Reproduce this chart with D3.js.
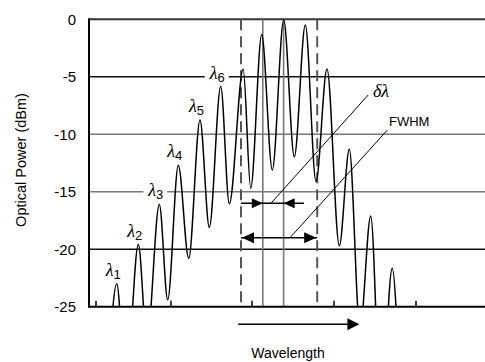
<!DOCTYPE html>
<html>
<head>
<meta charset="utf-8">
<script src="https://cdn.jsdelivr.net/npm/d3@7"></script>
<style>
  body { margin: 0; background: #fff; }
  svg { display: block; }
  text { font-family: "Liberation Sans", Arial, sans-serif; fill: #000; }
</style>
</head>
<body>
<div id="chart"></div>
<script>
// spectrum (wavelength in arbitrary units, power in dBm): alternating troughs / peaks
const waveX = [4.5, 6.93, 9.25, 12.33, 14.5, 17.58, 19.68, 22.33, 24.93, 27.75, 30.08, 32.93, 35.08,
  38.55, 40.43, 43.18, 45.83, 48.68, 51.33, 54.08, 56.75, 59.5, 62.58, 65.08, 67.75, 70.43, 73, 75.8, 77.75]
const powerDbm = [-33, -23.0, -32, -19.6, -28, -16.1, -24.4, -12.7, -20.8, -8.75, -18.1, -5.85, -16.05,
  -4.32, -14.7, -1.33, -13.1, -0.07, -11.95, -0.5, -14.1, -4.32, -19.7, -11.3, -27, -17.1, -34, -21.65, -33]

const yTicks = [0, -5, -10, -15, -20, -25]
const xTicks = [1.75, 20.5, 40.75, 61.25, 81.75]
const lambdaNames = ['1', '2', '3', '4', '5', '6']   // first six peaks are labelled
const fwhmEdges = [38, 57.05]        // dashed lines
const deltaLines = [43.45, 48.65]    // solid grey lines (adjacent peaks)

const width = 485, height = 362
const plot = {left: 89, right: 485, top: 19.3, bottom: 306.7}

const svg = d3.select('#chart').append('svg')
  .attr('width', width)
  .attr('height', height)

const x = d3.scaleLinear().domain([0, 99]).range([plot.left, plot.right])
const y = d3.scaleLinear().domain([-25, 0]).range([plot.bottom, plot.top])

// horizontal grid lines
svg.append('g')
  .selectAll('line')
  .data(yTicks.filter(d => d !== 0 && d !== -25))
  .join('line')
    .attr('x1', plot.left).attr('x2', plot.right)
    .attr('y1', d => y(d)).attr('y2', d => y(d))
    .attr('stroke', d => (d === -5 || d === -20) ? '#111' : '#777')
    .attr('stroke-width', 1.4)

// top line
svg.append('line')
  .attr('x1', plot.left).attr('x2', plot.right)
  .attr('y1', y(0)).attr('y2', y(0))
  .attr('stroke', '#333').attr('stroke-width', 2)

// y axis tick labels
svg.append('g')
  .selectAll('text')
  .data(yTicks)
  .join('text')
    .attr('x', 76)
    .attr('y', d => y(d))
    .attr('dy', '0.36em')
    .attr('text-anchor', 'end')
    .style('font-size', '15px')
    .text(d => d)

// y axis title
svg.append('text')
  .attr('transform', `translate(26,160) rotate(-90)`)
  .attr('text-anchor', 'middle')
  .style('font-size', '14.5px')
  .text('Optical Power (dBm)')

// FWHM edges (dashed) and delta-lambda lines (solid grey)
svg.append('g')
  .selectAll('line')
  .data(fwhmEdges)
  .join('line')
    .attr('x1', d => x(d)).attr('x2', d => x(d))
    .attr('y1', y(0)).attr('y2', plot.bottom)
    .attr('stroke', '#555').attr('stroke-width', 2)
    .attr('stroke-dasharray', '11,6')

svg.append('g')
  .selectAll('line')
  .data(deltaLines)
  .join('line')
    .attr('x1', d => x(d)).attr('x2', d => x(d))
    .attr('y1', y(0)).attr('y2', plot.bottom)
    .attr('stroke', '#777').attr('stroke-width', 1.6)

// peak labels: white boxes first, curve above, then text
const pts = waveX.map((w, i) => ({w: w, p: powerDbm[i]}))
const peaks = pts.filter((d, i) => i > 0 && i < pts.length - 1 && d.p > pts[i - 1].p && d.p > pts[i + 1].p)

const labelG = svg.append('g')
const boxG = svg.append('g')
const lbl = labelG.selectAll('text.lam')
  .data(lambdaNames.map((n, i) => ({name: n, pk: peaks[i]})))
  .join('text')
    .attr('class', 'lam')
    .attr('x', d => x(d.pk.w) - 11)
    .attr('y', d => y(d.pk.p) - 8)
lbl.append('tspan')
  .style('font-family', '"Liberation Serif", "Times New Roman", serif')
  .style('font-style', 'italic')
  .style('font-size', '18px')
  .text('λ')
lbl.append('tspan')
  .attr('dy', 3)
  .style('font-size', '13px')
  .text(d => d.name)

lbl.each(function() {
  const b = this.getBBox()
  boxG.append('rect')
    .attr('x', b.x - 4).attr('y', b.y)
    .attr('width', b.width + 8).attr('height', b.height)
    .attr('fill', '#fff')
})

// clip for the curve
svg.append('clipPath').attr('id', 'plot-clip')
  .append('rect')
  .attr('x', plot.left).attr('y', 0)
  .attr('width', plot.right - plot.left).attr('height', plot.bottom)

const line = d3.line()
  .x(d => x(d.w))
  .y(d => y(d.p))
  .curve(d3.curveMonotoneX)

svg.append('path')
  .datum(pts)
  .attr('clip-path', 'url(#plot-clip)')
  .attr('d', line)
  .attr('fill', 'none')
  .attr('stroke', '#000')
  .attr('stroke-width', 1.5)

labelG.raise()

// axes
svg.append('line')
  .attr('x1', plot.left).attr('x2', plot.left)
  .attr('y1', y(0) - 1).attr('y2', plot.bottom + 1)
  .attr('stroke', '#000').attr('stroke-width', 2)
svg.append('line')
  .attr('x1', plot.left).attr('x2', plot.right)
  .attr('y1', plot.bottom).attr('y2', plot.bottom)
  .attr('stroke', '#000').attr('stroke-width', 2)

svg.append('g')
  .selectAll('line')
  .data(xTicks)
  .join('line')
    .attr('x1', d => x(d)).attr('x2', d => x(d))
    .attr('y1', plot.bottom).attr('y2', plot.bottom - 6)
    .attr('stroke', '#000').attr('stroke-width', 1.5)

// arrowheads
function head(g, tipX, tipY, dir, len, half) {
  g.append('path')
    .attr('d', `M${tipX},${tipY}L${tipX - dir * len},${tipY - half}L${tipX - dir * len},${tipY + half}Z`)
    .attr('fill', '#000')
}

const ann = svg.append('g')

// delta lambda arrows
const dY = y(-16)
ann.append('line')
  .attr('x1', x(fwhmEdges[0])).attr('x2', x(53.75))
  .attr('y1', dY).attr('y2', dY)
  .attr('stroke', '#000').attr('stroke-width', 1.5)
head(ann, x(deltaLines[0]), dY, 1, 11, 5)
head(ann, x(deltaLines[1]), dY, -1, 11, 5)

// FWHM arrow
const fY = y(-19)
ann.append('line')
  .attr('x1', x(fwhmEdges[0])).attr('x2', x(fwhmEdges[1]))
  .attr('y1', fY).attr('y2', fY)
  .attr('stroke', '#000').attr('stroke-width', 1.5)
head(ann, x(fwhmEdges[0]) + 1, fY, -1, 12, 5.5)
head(ann, x(fwhmEdges[1]) - 1, fY, 1, 12, 5.5)

// leader lines
ann.append('line')
  .attr('x1', x(69.8)).attr('y1', y(-6.58))
  .attr('x2', x(45.5)).attr('y2', dY)
  .attr('stroke', '#000').attr('stroke-width', 1)
ann.append('line')
  .attr('x1', x(74.6)).attr('y1', y(-9.63))
  .attr('x2', x(50.25)).attr('y2', fY)
  .attr('stroke', '#000').attr('stroke-width', 1)

ann.append('text')
  .attr('x', 373).attr('y', 97)
  .style('font-family', '"Liberation Serif", "Times New Roman", serif')
  .style('font-style', 'italic')
  .style('font-size', '18px')
  .text('δλ')
ann.append('text')
  .attr('x', 389).attr('y', 126)
  .style('font-size', '13px')
  .text('FWHM')

// wavelength direction arrow
const wY = 324.3
ann.append('line')
  .attr('x1', x(37.3)).attr('x2', x(67.6) - 10)
  .attr('y1', wY).attr('y2', wY)
  .attr('stroke', '#000').attr('stroke-width', 1.5)
head(ann, x(67.6), wY, 1, 12, 6)

svg.append('text')
  .attr('x', 288).attr('y', 358)
  .attr('text-anchor', 'middle')
  .style('font-size', '14px')
  .text('Wavelength')
</script>
</body>
</html>
